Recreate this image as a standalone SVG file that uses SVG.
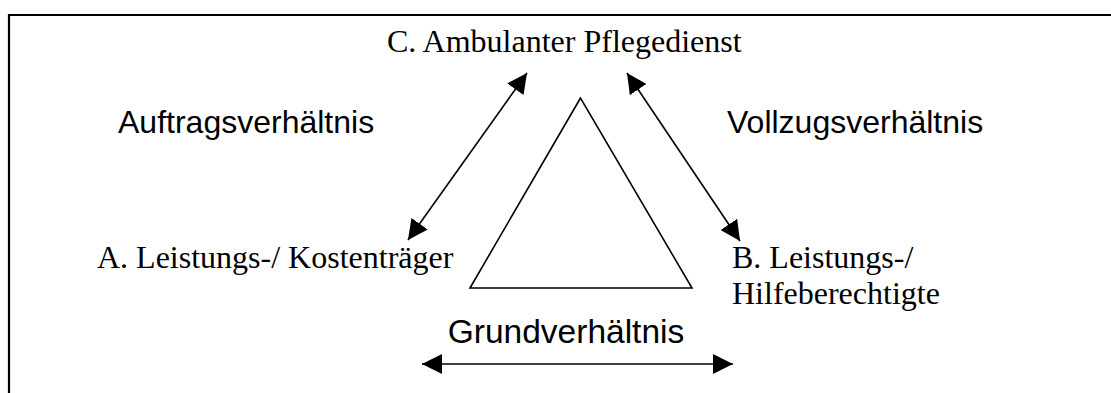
<svg xmlns="http://www.w3.org/2000/svg" width="1111" height="393" viewBox="0 0 1111 393">
<style>
.serif{font-family:"Liberation Serif","Times New Roman",serif;font-size:32px;fill:#000}
.sans{font-family:"Liberation Sans",Arial,sans-serif;font-size:32px;fill:#000}
.ln{stroke:#000;stroke-width:1.6;fill:none}
</style>
<defs>
<marker id="ah" viewBox="0 0 20 20" refX="20" refY="10" markerWidth="20" markerHeight="20" markerUnits="userSpaceOnUse" orient="auto-start-reverse">
<path d="M0,0 L20,10 L0,20 Z" fill="#000"/>
</marker>
</defs>
<rect width="1111" height="393" fill="#fff"/>
<g id="frame">
<path d="M9,393 V15 H1111" stroke="#000" stroke-width="2.2" fill="none"/>
</g>
<g id="nodeC"><text class="serif" x="387" y="52">C. Ambulanter Pflegedienst</text></g>
<g id="nodeA"><text class="serif" x="97" y="268">A. Leistungs-/ Kostenträger</text></g>
<g id="nodeB"><text class="serif" x="732" y="268">B. Leistungs-/</text><text class="serif" x="732" y="304">Hilfeberechtigte</text></g>
<g id="triangle"><polygon class="ln" points="580.5,98 470,288 692,288"/></g>
<g id="connectors">
<line class="ln" x1="408" y1="240" x2="527" y2="73" marker-start="url(#ah)" marker-end="url(#ah)"/>
<line class="ln" x1="627" y1="73" x2="740" y2="241" marker-start="url(#ah)" marker-end="url(#ah)"/>
<line class="ln" x1="422" y1="364" x2="733" y2="364" marker-start="url(#ah)" marker-end="url(#ah)"/>
</g>
<g id="labels">
<text class="sans" x="118" y="133">Auftragsverhältnis</text>
<text class="sans" x="727" y="133">Vollzugsverhältnis</text>
<text class="sans" x="566" y="343" text-anchor="middle" style="font-size:33.5px">Grundverhältnis</text>
</g>
</svg>
